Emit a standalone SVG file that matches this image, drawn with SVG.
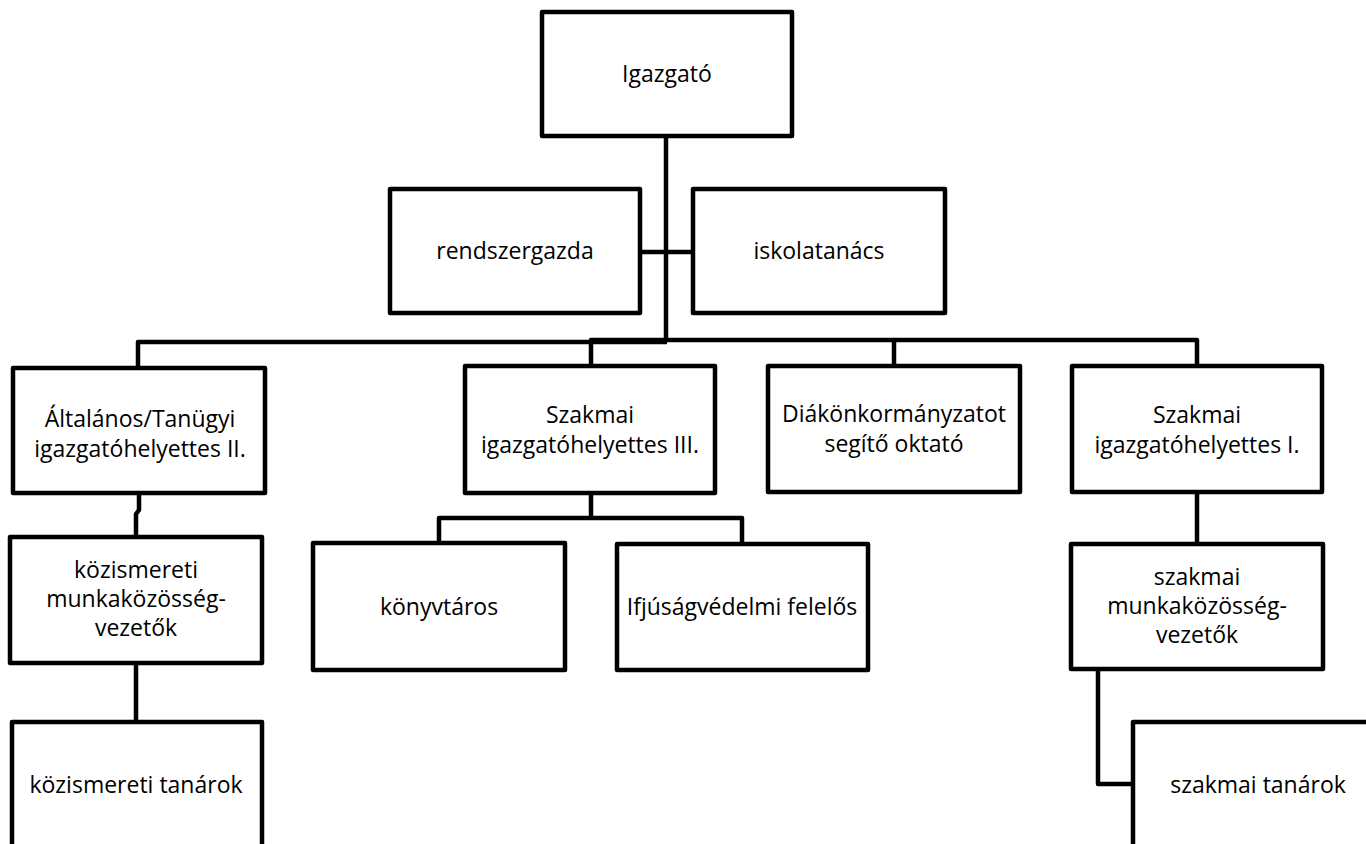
<svg xmlns="http://www.w3.org/2000/svg" width="1366" height="844" viewBox="0 0 1366 844">
<style>
.box{fill:#fff;stroke:#000;stroke-width:4.5;stroke-linejoin:round}
.c{fill:none;stroke:#000;stroke-width:4.5;stroke-linejoin:round}
text{font-family:"Open Sans","Noto Sans",sans-serif;font-size:23px;fill:#000;text-anchor:middle}
</style>
<rect width="1366" height="844" fill="#fff"/>
<g id="connectors">
<path class="c" d="M666,136V342"/>
<path class="c" d="M640,252H693"/>
<path class="c" d="M138,368V342H667"/>
<path class="c" d="M591,366V340H1197V366"/>
<path class="c" d="M894,340V366"/>
<path class="c" d="M139,493V510L136,514V537"/>
<path class="c" d="M136,663V722"/>
<path class="c" d="M591,493V518"/>
<path class="c" d="M439,543V518H742V544"/>
<path class="c" d="M1197,492V544"/>
<path class="c" d="M1098,669V784H1133"/>
</g>
<g id="igazgato"><rect class="box" x="542" y="12" width="250" height="124"/><text x="667" y="82">Igazgató</text></g>
<g id="rendszergazda"><rect class="box" x="390" y="189" width="250" height="124"/><text x="515" y="259">rendszergazda</text></g>
<g id="iskolatanacs"><rect class="box" x="693" y="189" width="252" height="124"/><text x="819" y="259">iskolatanács</text></g>
<g id="altalanos"><rect class="box" x="13" y="368" width="252" height="125"/><text x="140" y="427">Általános/Tanügyi</text><text x="140" y="457">igazgatóhelyettes II.</text></g>
<g id="szakmai3"><rect class="box" x="465" y="366" width="250" height="127"/><text x="590" y="423">Szakmai</text><text x="590" y="453">igazgatóhelyettes III.</text></g>
<g id="diak"><rect class="box" x="768" y="366" width="252" height="126"/><text x="894" y="422">Diákönkormányzatot</text><text x="894" y="452">segítő oktató</text></g>
<g id="szakmai1"><rect class="box" x="1072" y="366" width="250" height="126"/><text x="1197" y="423">Szakmai</text><text x="1197" y="453">igazgatóhelyettes I.</text></g>
<g id="kozismereti-mk"><rect class="box" x="10" y="537" width="252" height="126"/><text x="136" y="578">közismereti</text><text x="136" y="607">munkaközösség-</text><text x="136" y="636">vezetők</text></g>
<g id="konyvtaros"><rect class="box" x="313" y="543" width="252" height="127"/><text x="439" y="615">könyvtáros</text></g>
<g id="ifjusagvedelmi"><rect class="box" x="617" y="544" width="251" height="126"/><text x="742" y="615">Ifjúságvédelmi felelős</text></g>
<g id="szakmai-mk"><rect class="box" x="1071" y="544" width="252" height="125"/><text x="1197" y="585">szakmai</text><text x="1197" y="614">munkaközösség-</text><text x="1197" y="643">vezetők</text></g>
<g id="kozismereti-tanarok"><rect class="box" x="12" y="722" width="250" height="140"/><text x="136" y="793">közismereti tanárok</text></g>
<g id="szakmai-tanarok"><rect class="box" x="1133" y="722" width="260" height="140"/><text x="1258" y="793">szakmai tanárok</text></g>
</svg>
